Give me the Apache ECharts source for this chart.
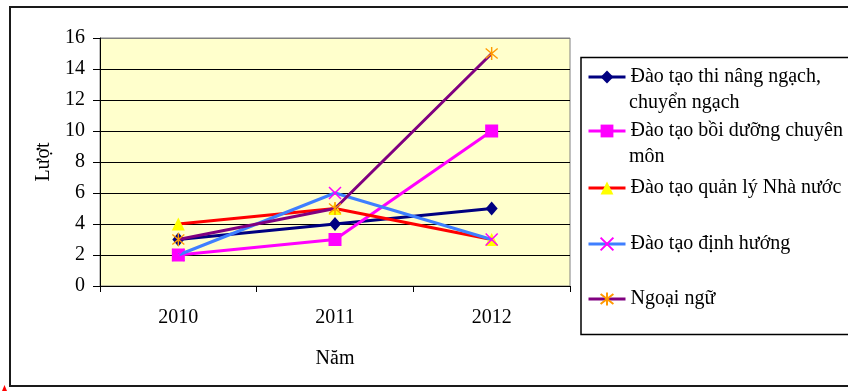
<!DOCTYPE html>
<html>
<head>
<meta charset="utf-8">
<script src="https://cdn.jsdelivr.net/npm/echarts@6/dist/echarts.min.js"></script>
<style>
  html, body { margin: 0; padding: 0; background: #fff; }
  #chart { width: 848px; height: 391px; }
</style>
</head>
<body>
<div id="chart"></div>
<script>
// Số lượt đào tạo theo năm
const years = ['2010', '2011', '2012'];
const thiNangNgach = [3, 4, 5];
const boiDuongChuyenMon = [2, 3, 10];
const quanLyNhaNuoc = [4, 5, 3];
const dinhHuong = [2, 6, 3];
const ngoaiNgu = [3, 5, 15];

const seriesNames = [
  'Đào tạo thi nâng ngạch, chuyển ngạch',
  'Đào tạo bồi dưỡng chuyên môn',
  'Đào tạo quản lý Nhà nước',
  'Đào tạo định hướng',
  'Ngoại ngữ'
];
// legend text, split the way it wraps in the legend box
const legendLines = [
  ['Đào tạo thi nâng ngạch,', 'chuyển ngạch'],
  ['Đào tạo bồi dưỡng chuyên', 'môn'],
  ['Đào tạo quản lý Nhà nước'],
  ['Đào tạo định hướng'],
  ['Ngoại ngữ']
];
const yMin = 0, yMax = 16, yStep = 2;
const yAxisTitle = 'Lượt';
const xAxisTitle = 'Năm';

const FONT = '"Liberation Serif", "Times New Roman", serif';
const CROSS = 'path://M0,0L10,10M10,0L0,10';
const STAR = 'path://M0,0L10,10M10,0L0,10M5,-1.5L5,11.5';

const chart = echarts.init(document.getElementById('chart'), null, { renderer: 'canvas' });

function lineSeries(name, data, lineColor, symbol, symbolSize, markStyle, z) {
  return {
    name: name,
    type: 'line',
    data: data,
    z: z,
    symbol: symbol,
    symbolSize: symbolSize,
    showSymbol: true,
    lineStyle: { color: lineColor, width: 3 },
    itemStyle: markStyle,
    emphasis: { disabled: true }
  };
}

const series = [
  lineSeries(seriesNames[0], thiNangNgach, '#000080', 'diamond', [12, 14],
    { color: '#000080' }, 2),
  lineSeries(seriesNames[1], boiDuongChuyenMon, '#FF00FF', 'rect', [13, 13],
    { color: '#FF00FF' }, 3),
  lineSeries(seriesNames[2], quanLyNhaNuoc, '#FF0000', 'triangle', [13, 13],
    { color: '#FFFF00' }, 4),
  lineSeries(seriesNames[3], dinhHuong, '#3F7FFF', CROSS, [12, 12],
    { color: 'rgba(0,0,0,0)', borderColor: '#FF00FF', borderWidth: 1.5 }, 5),
  lineSeries(seriesNames[4], ngoaiNgu, '#800080', STAR, [12, 13],
    { color: 'rgba(0,0,0,0)', borderColor: '#FF9900', borderWidth: 1.5 }, 6)
];

// one legend block per entry so the spacing follows the wrapped text
const legendTops = [67, 121, 178, 234, 289];
const legends = seriesNames.map((name, i) => ({
  data: [name],
  left: 587,
  top: legendTops[i],
  orient: 'vertical',
  padding: 0,
  itemGap: 0,
  itemWidth: 37,
  itemHeight: 16,
  selectedMode: false,
  lineStyle: { width: 3 },
  textStyle: { fontFamily: FONT, fontSize: 20, color: '#000', lineHeight: 20 },
  formatter: () => legendLines[i][0]
}));

const contLines = [];
legendLines.forEach((lines, i) => {
  if (lines.length > 1) {
    contLines.push({
      type: 'text',
      left: 629,
      top: legendTops[i] + 26,
      style: { text: lines[1], font: '20px ' + FONT, fill: '#000' }
    });
  }
});

const nSplits = (yMax - yMin) / yStep + 1;
const splitColors = Array.from({ length: nSplits }, (_, k) => k === nSplits - 1 ? '#808080' : '#000');

chart.setOption({
  animation: false,
  backgroundColor: '#fff',
  textStyle: { fontFamily: FONT },
  grid: {
    left: 100, right: 278, top: 38, bottom: 105,
    show: true,
    backgroundColor: '#FFFFCC',
    borderColor: '#808080',
    borderWidth: 1
  },
  legend: legends,
  xAxis: {
    type: 'category',
    data: years,
    boundaryGap: true,
    name: xAxisTitle,
    nameLocation: 'middle',
    nameGap: 63,
    nameTextStyle: { fontFamily: FONT, fontSize: 20, color: '#000' },
    axisLine: { lineStyle: { color: '#000', width: 1 } },
    axisTick: { show: true, length: 6, alignWithLabel: false, lineStyle: { color: '#000' } },
    axisLabel: { fontFamily: FONT, fontSize: 20, color: '#000', margin: 22 },
    splitLine: { show: false }
  },
  yAxis: {
    type: 'value',
    min: yMin, max: yMax, interval: yStep,
    name: yAxisTitle,
    nameLocation: 'middle',
    nameRotate: 90,
    nameGap: 46,
    nameTextStyle: { fontFamily: FONT, fontSize: 20, color: '#000' },
    axisLine: { show: true, lineStyle: { color: '#000', width: 1 } },
    axisTick: { show: true, length: 7, lineStyle: { color: '#000' } },
    axisLabel: { fontFamily: FONT, fontSize: 20, color: '#000', margin: 15 },
    splitLine: { show: true, lineStyle: { color: splitColors, width: 1 } }
  },
  series: series,
  graphic: [
    // outer chart frame
    {
      type: 'rect', z: -10, silent: true,
      shape: { x: 10, y: 7, width: 900, height: 379 },
      style: { fill: 'none', stroke: '#1a1a1a', lineWidth: 2 }
    },
    // legend frame
    {
      type: 'rect', z: -5, silent: true,
      shape: { x: 581, y: 57.5, width: 300, height: 277 },
      style: { fill: '#fff', stroke: '#000', lineWidth: 1.5 }
    },
    // small red anchor mark in the corner
    {
      type: 'polygon', silent: true,
      shape: { points: [[2, 391], [4.5, 385], [7, 391]] },
      style: { fill: '#FF0000' }
    }
  ].concat(contLines)
});
</script>
</body>
</html>
